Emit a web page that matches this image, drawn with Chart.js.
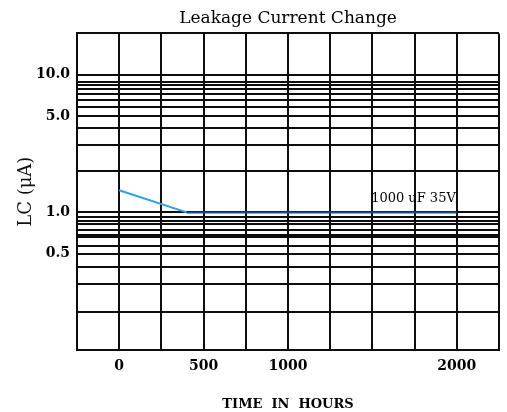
<!DOCTYPE html>
<html>
<head>
<meta charset="utf-8">
<title>Leakage Current Change</title>
<script src="https://cdn.jsdelivr.net/npm/chart.js@4"></script>
<style>
    html, body { margin: 0; padding: 0; background: #fff; }
    #wrap { width: 507px; height: 412px; }
</style>
</head>
<body>
<div id="wrap"><canvas id="lcChart"></canvas></div>
<script>
// Dados
const hours = [0, 400, 2000];
const lcValues = [1.45, 1.0, 1.0];
const seriesLabel = '1000 uF 35V';

// Linhas de grade do eixo Y (escala log, desenho do datasheet)
const yGridValues = [0.1, 0.19, 0.3, 0.4, 0.5, 0.57, 0.66, 0.69, 0.75, 0.82, 0.87, 0.93, 1.0,
                     2.0, 3.1, 4.1, 5.0, 5.8, 6.6, 7.2, 7.9, 8.4, 8.9, 10.0, 20.0];
const yTickLabels = [0.5, 1.0, 5.0, 10.0];
const xTickLabels = [0, 500, 1000, 2000];

const serif = "'DejaVu Serif', serif";
const gridColor = '#0d0d0d';

// Texto da série escrito sobre a linha
const seriesLabelPlugin = {
    id: 'seriesLabel',
    afterDatasetsDraw(chart) {
        const { ctx, scales } = chart;
        const x = scales.x.getPixelForValue(hours[hours.length - 1]);
        const y = scales.y.getPixelForValue(lcValues[lcValues.length - 1]);
        ctx.save();
        ctx.font = "13px " + serif;
        ctx.fillStyle = '#000';
        ctx.textAlign = 'right';
        ctx.textBaseline = 'alphabetic';
        ctx.fillText(seriesLabel, x - 1, y - 10);
        ctx.restore();
    }
};

new Chart(document.getElementById('lcChart').getContext('2d'), {
    type: 'line',
    data: {
        datasets: [{
            label: seriesLabel,
            data: hours.map((h, i) => ({ x: h, y: lcValues[i] })),
            borderWidth: 2,
            pointRadius: 0,
            fill: false,
            tension: 0,
            segment: {
                borderColor: c => c.p0DataIndex === 0 ? '#2aa3e4' : '#174f94'
            }
        }]
    },
    options: {
        responsive: true,
        maintainAspectRatio: false,
        animation: false,
        layout: { padding: { right: 8 } },
        plugins: {
            legend: { display: false },
            tooltip: { enabled: false },
            title: {
                display: true,
                text: 'Leakage Current Change',
                fullSize: false,
                color: '#000',
                font: { family: serif, size: 17, weight: 'normal' },
                padding: { top: 8, bottom: 5 }
            }
        },
        scales: {
            x: {
                type: 'linear',
                min: -250,
                max: 2250,
                afterFit: s => { s.height = 62; },
                afterBuildTicks: s => {
                    const t = [];
                    for (let v = -250; v <= 2250; v += 250) t.push({ value: v });
                    s.ticks = t;
                },
                ticks: {
                    autoSkip: false,
                    maxRotation: 0,
                    padding: 8,
                    color: '#000',
                    font: { family: serif, size: 14, weight: 'bold' },
                    callback: v => xTickLabels.includes(v) ? String(v) : ''
                },
                grid: { color: gridColor, lineWidth: 2, drawTicks: false },
                border: { color: gridColor, width: 2 },
                title: {
                    display: true,
                    text: 'TIME  IN  HOURS',
                    color: '#000',
                    font: { family: serif, size: 13, weight: 'bold' },
                    padding: { top: 0, bottom: 0 }
                }
            },
            y: {
                type: 'logarithmic',
                min: 0.1,
                max: 20,
                afterFit: s => { s.width = 77; },
                afterBuildTicks: s => {
                    s.ticks = yGridValues.map(v => ({ value: v }));
                },
                ticks: {
                    autoSkip: false,
                    padding: 7,
                    color: '#000',
                    font: { family: serif, size: 14, weight: 'bold' },
                    callback: v => yTickLabels.includes(v) ? v.toFixed(1) : ''
                },
                grid: { color: gridColor, lineWidth: 2, drawTicks: false },
                border: { color: gridColor, width: 2 },
                title: {
                    display: true,
                    text: 'LC (μA)',
                    color: '#111',
                    font: { family: serif, size: 18 },
                    padding: { top: 16, bottom: 0 }
                }
            }
        }
    },
    plugins: [seriesLabelPlugin]
});
</script>
</body>
</html>
